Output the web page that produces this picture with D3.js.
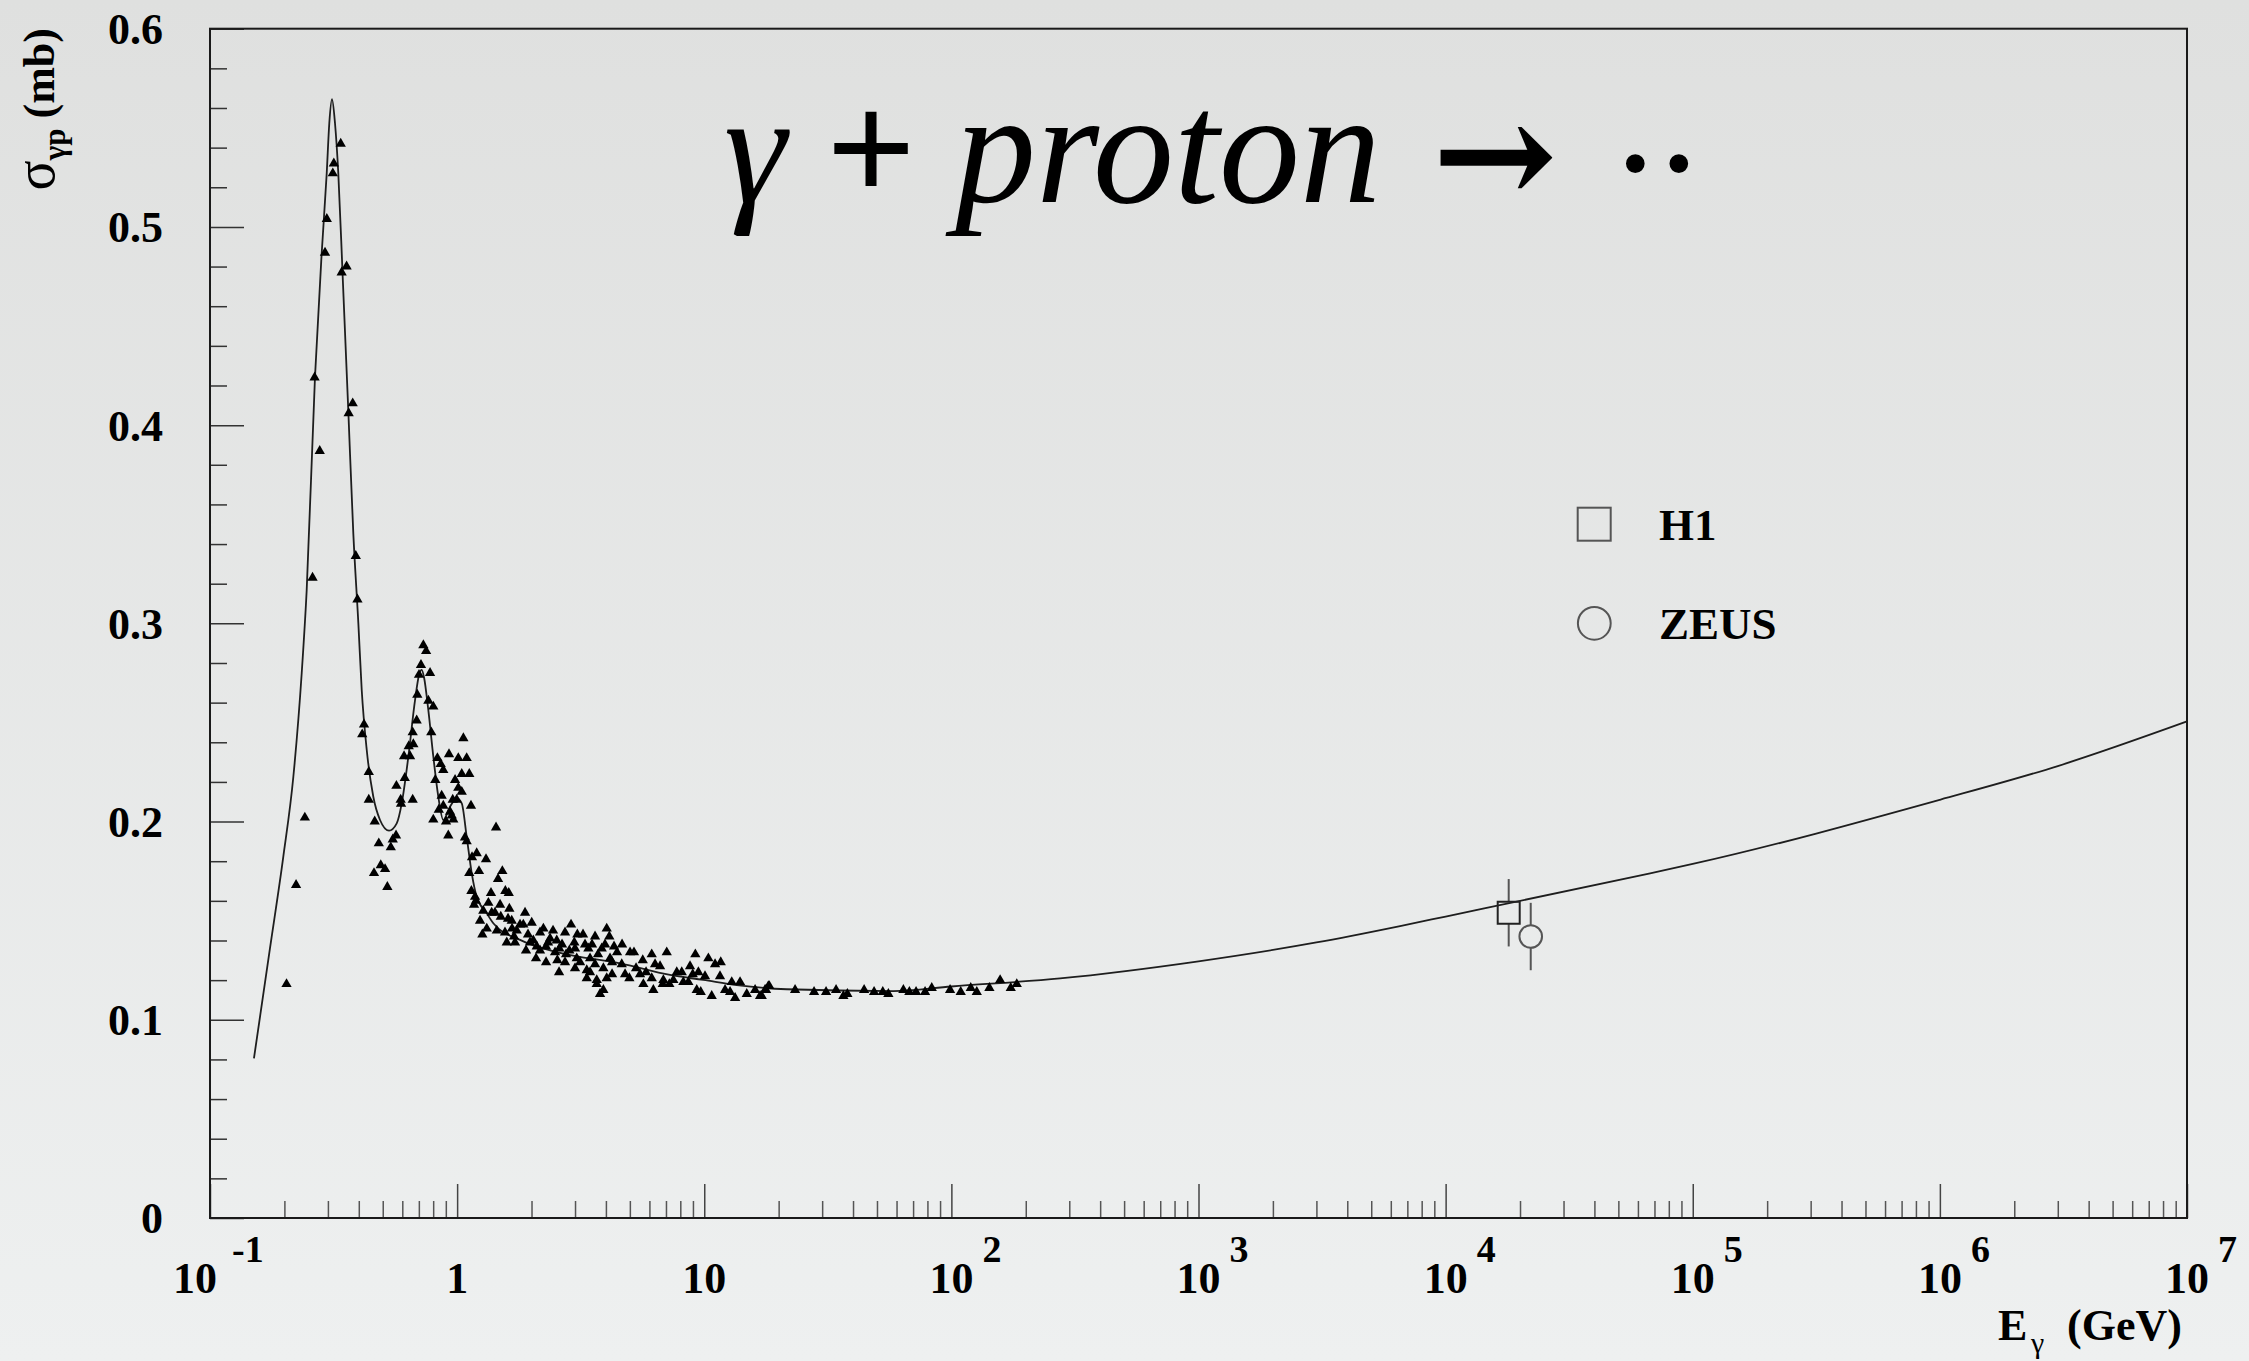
<!DOCTYPE html>
<html>
<head>
<meta charset="utf-8">
<script src="https://cdn.jsdelivr.net/npm/d3@7"></script>
<style>
  body { margin: 0; background: #e6e7e7; }
  svg { display: block; }
  text { font-family: "Liberation Serif", "Times New Roman", serif; fill: #000; }
</style>
</head>
<body>
<div id="chart"></div>
<script>
// measured photoproduction points (triangles), E in GeV, sigma in mb
const triE = [
  0.338, 0.317, 0.314, 0.297, 0.292, 0.357, 0.341, 0.265, 0.378, 0.364, 0.278, 0.389, 0.260,
  0.395, 0.730, 0.749, 0.714, 0.777, 0.701, 0.690, 0.765, 0.801, 0.686, 0.420, 0.413, 0.661,
  0.786, 1.060, 0.665, 0.637, 0.610, 0.645, 0.927, 1.011, 1.093, 0.832, 0.858, 0.879, 0.439,
  1.044, 1.120, 0.614, 0.981, 0.816, 0.568, 1.011, 1.044, 0.866, 0.439, 0.591, 0.661, 0.960,
  0.996, 0.593, 0.879, 1.138, 0.843, 0.936, 0.242, 0.951, 0.464, 0.801, 0.902, 0.965, 1.437,
  0.566, 0.921, 1.076, 0.549, 1.093, 0.482, 0.539, 1.200, 1.149, 1.309, 0.491, 0.511, 0.461,
  1.120, 1.226, 1.524, 1.464, 0.223, 0.522, 1.142, 1.371, 1.567, 1.618, 1.192, 1.171, 1.338,
  1.492, 1.627, 1.276, 1.380, 1.883, 1.502, 1.238, 1.663, 1.853, 1.318, 1.447, 1.743, 1.265,
  1.562, 1.700, 1.588, 1.715, 1.900, 0.204,
  1.182, 1.423, 2.004, 2.89, 4.03, 2.234, 2.733, 3.065, 3.615, 4.129, 2.034, 2.377, 2.53,
  2.98, 3.293, 4.315, 2.10, 2.29, 2.592, 2.845, 3.396, 3.847, 5.009, 5.196, 6.13, 7.05,
  9.204, 2.086, 2.29, 2.544, 3.048, 3.45, 4.157, 4.636, 5.638, 6.323, 10.39, 11.06, 11.66,
  2.585, 3.346, 3.906, 4.781, 5.814, 7.741, 8.11, 8.985, 9.465, 10.07, 11.58, 3.346, 3.672,
  4.03, 4.977, 6.13, 6.832, 7.499, 8.229, 12.92, 13.96, 18.17, 3.672, 5.67, 6.794, 7.224,
  8.624, 12.14, 16.06, 17.62, 3.906, 6.223, 9.325, 9.678, 12.72, 14.86, 3.787, 10.72, 13.33,
  16.82,
  1.797, 1.936, 2.165, 2.333, 2.444, 2.658, 2.759, 3.0, 3.144, 3.232, 3.515, 3.615, 3.717,
  3.967, 4.236, 4.437, 4.65, 3.45, 3.0, 2.733, 2.49, 1.972, 1.668, 1.607, 2.165, 5.297,
  6.625, 5.498, 8.76, 4.236,
  18.34, 17.09, 17.79, 23.31, 27.82, 31.11, 34.15, 36.56, 37.95, 44.35, 48.67, 52.78, 55.59,
  63.94, 67.61, 71.97, 78.27, 83.29, 98.8, 109.1, 119.8, 126.7, 142.5, 157.5, 173.9, 183.9
];
const triSigma = [
  0.542, 0.532, 0.527, 0.504, 0.487, 0.480, 0.477, 0.424, 0.411, 0.406, 0.387, 0.334, 0.323,
  0.312, 0.289, 0.286, 0.279, 0.275, 0.274, 0.264, 0.261, 0.258, 0.251, 0.249, 0.244, 0.245,
  0.245, 0.242, 0.239, 0.238, 0.233, 0.233, 0.234, 0.232, 0.232, 0.232, 0.229, 0.226, 0.225,
  0.224, 0.224, 0.222, 0.221, 0.221, 0.218, 0.217, 0.215, 0.213, 0.211, 0.211, 0.211, 0.211,
  0.211, 0.209, 0.208, 0.208, 0.206, 0.205, 0.202, 0.203, 0.200, 0.201, 0.200, 0.201, 0.197,
  0.193, 0.193, 0.192, 0.191, 0.190, 0.189, 0.187, 0.184, 0.182, 0.181, 0.178, 0.176, 0.174,
  0.174, 0.175, 0.175, 0.171, 0.168, 0.167, 0.165, 0.164, 0.165, 0.164, 0.160, 0.158, 0.159,
  0.158, 0.156, 0.155, 0.154, 0.154, 0.152, 0.150, 0.150, 0.148, 0.146, 0.145, 0.145, 0.143,
  0.144, 0.142, 0.139, 0.139, 0.135, 0.118,
  0.162, 0.154, 0.149, 0.148, 0.146, 0.146, 0.144, 0.143, 0.142, 0.142, 0.140, 0.141, 0.140,
  0.139, 0.138, 0.137, 0.137, 0.137, 0.136, 0.135, 0.136, 0.136, 0.134, 0.134, 0.133, 0.134,
  0.133, 0.131, 0.129, 0.130, 0.131, 0.131, 0.131, 0.128, 0.130, 0.128, 0.131, 0.128, 0.129,
  0.124, 0.125, 0.126, 0.123, 0.124, 0.124, 0.124, 0.123, 0.124, 0.122, 0.122, 0.121, 0.120,
  0.121, 0.121, 0.121, 0.120, 0.120, 0.119, 0.119, 0.119, 0.117, 0.118, 0.118, 0.118, 0.118,
  0.119, 0.115, 0.115, 0.115, 0.115, 0.115, 0.115, 0.114, 0.114, 0.113, 0.113, 0.112, 0.111,
  0.112,
  0.148, 0.143, 0.144, 0.139, 0.145, 0.138, 0.133, 0.136, 0.129, 0.143, 0.138, 0.128, 0.133,
  0.138, 0.129, 0.134, 0.138, 0.124, 0.126, 0.129, 0.134, 0.139, 0.146, 0.151, 0.135, 0.126,
  0.127, 0.123, 0.127, 0.123,
  0.117, 0.112, 0.115, 0.115, 0.114, 0.114, 0.115, 0.112, 0.113, 0.115, 0.114, 0.114, 0.113,
  0.115, 0.114, 0.114, 0.114, 0.116, 0.115, 0.114, 0.116, 0.114, 0.116, 0.120, 0.116, 0.118
];

// fitted curve
const curveE = [
  0.1506, 0.1749, 0.198, 0.2174, 0.235, 0.2462, 0.266, 0.2831, 0.2967, 0.3039, 0.3116, 0.3205,
  0.3305, 0.3443, 0.3627, 0.3801, 0.3984, 0.4111, 0.4308, 0.458, 0.4875, 0.5302, 0.5696, 0.5968,
  0.6347, 0.6756, 0.7011, 0.719, 0.7345, 0.7645, 0.8012, 0.8393, 0.8794, 0.9361, 0.9963, 1.044,
  1.093, 1.146, 1.2, 1.318, 1.401, 1.797, 2.609, 4.562, 7.27, 9.917, 13.54, 21.57, 58.08, 100,
  275.4, 1000, 3000, 6543, 1e4, 67240, 1e5, 1e6, 3e6, 1e7
];
const curveSigma = [
  0.0805, 0.1361, 0.1823, 0.2226, 0.2748, 0.3168, 0.4244, 0.4867, 0.5271, 0.5523, 0.5644, 0.5523,
  0.5271, 0.4749, 0.4076, 0.3454, 0.300, 0.2664, 0.2361, 0.2125, 0.2008, 0.1954, 0.1991, 0.2092,
  0.2327, 0.2613, 0.2739, 0.2765, 0.2728, 0.2563, 0.2327, 0.2125, 0.2008, 0.2075, 0.2117, 0.2092,
  0.1924, 0.1739, 0.1621, 0.1537, 0.1487, 0.1403, 0.1337, 0.1285, 0.1226, 0.1201, 0.1175, 0.1154,
  0.1145, 0.1168, 0.1209, 0.1295, 0.139, 0.1473, 0.1521, 0.1739, 0.1786, 0.211, 0.228, 0.2505
];

// HERA points
const heraNames = ['H1', 'ZEUS'];
const heraE = [1.8e4, 2.21e4];
const heraSigma = [0.154, 0.142];
const heraErr = [0.017, 0.017];

// axis ticks
const yMajor = [0, 0.1, 0.2, 0.3, 0.4, 0.5, 0.6];
const yLabels = ['0', '0.1', '0.2', '0.3', '0.4', '0.5', '0.6'];
const xMajor = [0.1, 1, 10, 1e2, 1e3, 1e4, 1e5, 1e6, 1e7];
const xBase = ['10', '1', '10', '10', '10', '10', '10', '10', '10'];
const xExp = ['-1', '', '', '2', '3', '4', '5', '6', '7'];

const W = 2249, H = 1361;
const L = 210, R = 2187, T = 28.7, B = 1218;

const svg = d3.select('#chart').append('svg')
    .attr('width', W)
    .attr('height', H);

const grad = svg.append('defs').append('linearGradient')
    .attr('id', 'bg').attr('x1', 0).attr('y1', 0).attr('x2', 0).attr('y2', 1);
grad.append('stop').attr('offset', '0%').attr('stop-color', '#dfe0df');
grad.append('stop').attr('offset', '100%').attr('stop-color', '#eef0f0');
svg.append('rect').attr('width', W).attr('height', H).attr('fill', 'url(#bg)');

const x = d3.scaleLog().domain([0.1, 1e7]).range([L, R]);
const y = d3.scaleLinear().domain([0, 0.6]).range([B, T]);

// minor ticks
const xMinor = [];
for (let e = -1; e < 7; e++) {
    for (let m = 2; m <= 9; m++) xMinor.push(m * Math.pow(10, e));
}
const yMinor = d3.range(0, 31).map(i => i * 0.02).filter((d, i) => i % 5 !== 0);

svg.append('g')
    .attr('transform', `translate(0,${B})`)
    .call(d3.axisBottom(x).tickValues(xMinor).tickSize(-17).tickFormat(''))
    .call(g => g.select('.domain').remove())
    .call(g => g.selectAll('line').attr('stroke', '#555').attr('stroke-width', 1.5));
svg.append('g')
    .attr('transform', `translate(0,${B})`)
    .call(d3.axisBottom(x).tickValues(xMajor).tickSize(-34).tickFormat(''))
    .call(g => g.select('.domain').remove())
    .call(g => g.selectAll('line').attr('stroke', '#444').attr('stroke-width', 1.5));

svg.append('g')
    .attr('transform', `translate(${L},0)`)
    .call(d3.axisLeft(y).tickValues(yMinor).tickSize(-17).tickFormat(''))
    .call(g => g.select('.domain').remove())
    .call(g => g.selectAll('line').attr('stroke', '#333').attr('stroke-width', 1.5));
svg.append('g')
    .attr('transform', `translate(${L},0)`)
    .call(d3.axisLeft(y).tickValues(yMajor).tickSize(-34).tickPadding(47)
        .tickFormat((d, i) => yLabels[i]))
    .call(g => g.select('.domain').remove())
    .call(g => g.selectAll('line').attr('stroke', '#333').attr('stroke-width', 1.5))
    .call(g => g.selectAll('text')
        .attr('font-size', 44).attr('font-weight', 'bold')
        .attr('font-family', '"Liberation Serif", serif')
        .attr('dy', '0.34em'));

// frame
svg.append('rect')
    .attr('x', L).attr('y', T)
    .attr('width', R - L).attr('height', B - T)
    .attr('fill', 'none').attr('stroke', '#1a1a1a').attr('stroke-width', 2);

// x tick labels: base + exponent
const xl = svg.append('g').attr('font-weight', 'bold');
xMajor.forEach((v, i) => {
    const shift = xExp[i].startsWith('-') ? -15 : 0;
    xl.append('text')
        .attr('x', x(v) + shift).attr('y', 1292.7)
        .attr('text-anchor', 'middle').attr('font-size', 44)
        .text(xBase[i]);
    if (xExp[i]) {
        xl.append('text')
            .attr('x', x(v) + shift + 31 + (shift ? 6 : 0)).attr('y', 1261.7)
            .attr('font-size', 38)
            .text(xExp[i]);
    }
});

// axis titles
const xt = svg.append('g').attr('font-weight', 'bold');
xt.append('text').attr('x', 1998).attr('y', 1340).attr('font-size', 44).text('E');
xt.append('text').attr('x', 2031).attr('y', 1353).attr('font-size', 30).attr('font-weight', 'normal').text('γ');
xt.append('text').attr('x', 2067).attr('y', 1340).attr('font-size', 44).text('(GeV)');

const yt = svg.append('text')
    .attr('transform', 'translate(54,28) rotate(-90)')
    .attr('text-anchor', 'end');
yt.append('tspan').attr('font-size', 56).text('σ');
yt.append('tspan').attr('font-size', 31).attr('font-weight', 'bold').attr('dy', 11).text('γp');
yt.append('tspan').attr('font-size', 44).attr('font-weight', 'bold').attr('dy', -11).attr('dx', 10).text('(mb)');

// title
const title = svg.append('text').attr('y', 201.7).attr('font-size', 158);
title.append('tspan').attr('x', 724).attr('font-style', 'italic').text('γ');
title.append('tspan').attr('x', 826).attr('font-weight', 'bold').text('+');
title.append('tspan').attr('x', 955).attr('font-style', 'italic').attr('font-size', 162).text('proton');
title.append('tspan').attr('x', 1432).attr('font-family', '"DejaVu Serif", serif')
    .attr('font-weight', 'bold').attr('font-size', 150).attr('dy', 4).text('→');
title.append('tspan').attr('x', 1609).attr('dy', 10).attr('letter-spacing', -9).text('··');

// curve
const line = d3.line()
    .x(d => x(d[0]))
    .y(d => y(d[1]))
    .curve(d3.curveMonotoneX);
svg.append('path')
    .datum(curveE.map((e, i) => [e, curveSigma[i]]))
    .attr('d', line)
    .attr('fill', 'none')
    .attr('stroke', '#1e1e1e')
    .attr('stroke-width', 1.8);

// triangles
const tri = d3.symbol(d3.symbolTriangle, 46);
svg.append('g')
    .selectAll('path')
    .data(triE.map((e, i) => [e, triSigma[i]]))
    .join('path')
    .attr('transform', d => `translate(${x(d[0])},${y(d[1])})`)
    .attr('d', tri)
    .attr('fill', '#000');

// HERA points with error bars
const hera = svg.append('g').attr('fill', 'none').attr('stroke', '#555').attr('stroke-width', 2);
const markerR = [11, 11.3];
heraE.forEach((e, i) => {
    const cx = x(e), cy = y(heraSigma[i]);
    const r = markerR[i];
    hera.append('line').attr('x1', cx).attr('x2', cx)
        .attr('y1', y(heraSigma[i] + heraErr[i])).attr('y2', cy - r);
    hera.append('line').attr('x1', cx).attr('x2', cx)
        .attr('y1', cy + r).attr('y2', y(heraSigma[i] - heraErr[i]));
    if (i === 0) {
        hera.append('rect').attr('x', cx - r).attr('y', cy - r)
            .attr('width', 2 * r).attr('height', 2 * r).attr('stroke', '#222');
    } else {
        hera.append('circle').attr('cx', cx).attr('cy', cy).attr('r', r);
    }
});

// legend
const lg = svg.append('g');
lg.append('rect').attr('x', 1577.7).attr('y', 507.7).attr('width', 33).attr('height', 33)
    .attr('fill', 'none').attr('stroke', '#555').attr('stroke-width', 2);
lg.append('circle').attr('cx', 1594.3).attr('cy', 623.3).attr('r', 16.4)
    .attr('fill', 'none').attr('stroke', '#555').attr('stroke-width', 2);
lg.selectAll('text.lab')
    .data(heraNames)
    .join('text')
    .attr('class', 'lab')
    .attr('x', 1659)
    .attr('y', (d, i) => 540 + i * 99.3)
    .attr('font-size', 45)
    .attr('font-weight', 'bold')
    .text(d => d);
</script>
</body>
</html>
